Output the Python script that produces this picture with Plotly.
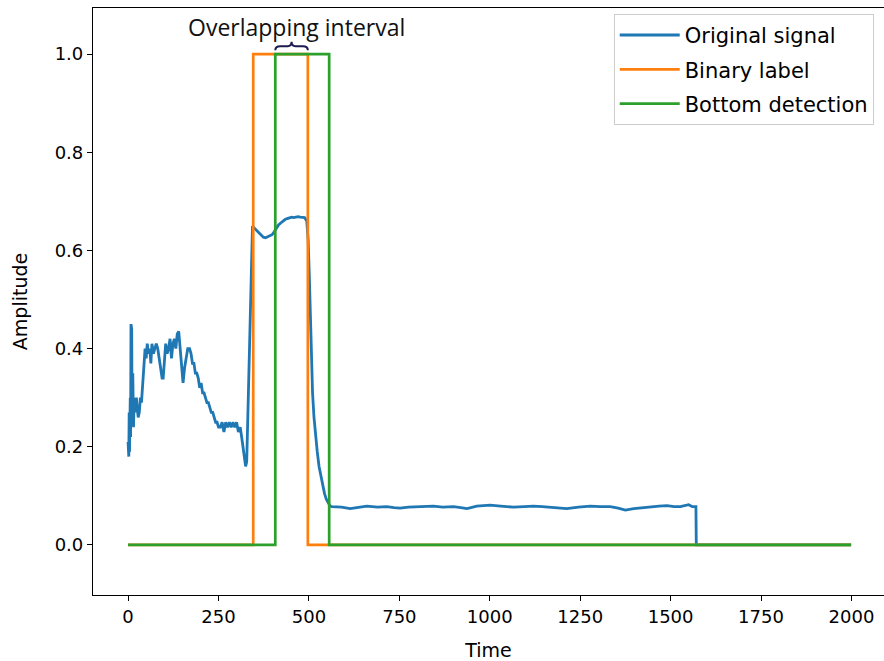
import plotly.graph_objects as go

# ---- data ----
signal_time = [0, 2, 3, 4, 6, 7, 8, 10, 11, 13, 15, 17, 19, 21, 23, 25, 28, 31, 34, 37,
               40, 44, 47, 50, 53, 56, 60, 63, 66, 70, 74, 78, 82, 86, 90, 94, 97, 100, 104, 108,
               112, 116, 120, 124, 128, 132, 136, 140, 144, 148, 152, 156, 160, 165, 170, 174, 178, 182, 186, 190,
               194, 198, 202, 206, 210, 214, 218, 222, 226, 230, 234, 238, 242, 246, 250, 255, 260, 265, 270, 275,
               280, 285, 290, 295, 300, 305, 310, 314, 318, 322, 325, 328, 332, 336, 340, 344, 350, 356, 362, 368,
               374, 380, 386, 392, 398, 404, 410, 416, 422, 428, 434, 440, 446, 452, 458, 464, 470, 476, 482, 488,
               494, 498, 501, 504, 507, 510, 514, 518, 523, 528, 533, 538, 543, 548, 553, 558, 563,
               568, 590, 614, 640, 660, 690, 715, 735, 752, 775, 799, 820, 844, 870, 900, 920, 937, 964, 1001,
               1030, 1066, 1095, 1121, 1145, 1167, 1190, 1213, 1245, 1278, 1305, 1333, 1355, 1375, 1398, 1420, 1444, 1468, 1490,
               1510, 1527, 1540, 1550, 1560, 1570, 1571, 1600, 1700, 1800, 1900, 1999]
signal_value = [0.21, 0.18, 0.27, 0.19, 0.30, 0.22, 0.45, 0.44, 0.25, 0.35, 0.24, 0.30, 0.27, 0.29, 0.30, 0.28, 0.26, 0.27, 0.30, 0.29,
                0.33, 0.37, 0.40, 0.38, 0.41, 0.39, 0.40, 0.37, 0.41, 0.39, 0.40, 0.41, 0.40, 0.38, 0.37, 0.34, 0.34, 0.38, 0.41, 0.39,
                0.40, 0.42, 0.38, 0.41, 0.42, 0.40, 0.43, 0.435, 0.40, 0.36, 0.33, 0.36, 0.38, 0.40, 0.40, 0.39, 0.37, 0.37, 0.35, 0.35,
                0.34, 0.32, 0.33, 0.31, 0.31, 0.30, 0.29, 0.29, 0.28, 0.27, 0.27, 0.26, 0.25, 0.25, 0.24, 0.24, 0.25, 0.23, 0.25, 0.24,
                0.25, 0.24, 0.25, 0.24, 0.25, 0.23, 0.24, 0.22, 0.20, 0.17, 0.16, 0.17, 0.30, 0.45, 0.58, 0.65, 0.645, 0.64, 0.635, 0.63,
                0.627, 0.626, 0.628, 0.63, 0.632, 0.638, 0.645, 0.652, 0.656, 0.66, 0.663, 0.665, 0.667, 0.668, 0.667, 0.668, 0.669, 0.668, 0.667, 0.667,
                0.66, 0.62, 0.55, 0.45, 0.36, 0.31, 0.26, 0.225, 0.19, 0.16, 0.14, 0.12, 0.105, 0.093, 0.085, 0.080, 0.078,
                0.078, 0.077, 0.074, 0.076, 0.079, 0.077, 0.078, 0.076, 0.075, 0.077, 0.078, 0.079, 0.079, 0.077, 0.078, 0.076, 0.074, 0.079, 0.081,
                0.079, 0.077, 0.078, 0.079, 0.078, 0.077, 0.076, 0.074, 0.077, 0.079, 0.078, 0.078, 0.075, 0.071, 0.074, 0.076, 0.077, 0.079, 0.080,
                0.078, 0.078, 0.080, 0.082, 0.078, 0.078, 0.0, 0.0, 0.0, 0.0, 0.0, 0.0]

label_time = [0, 346, 497, 1999]
label_value = [0, 1, 0, 0]

detect_time = [0, 407, 556, 1999]
detect_value = [0, 1, 0, 0]

y_ticks = [0.0, 0.2, 0.4, 0.6, 0.8, 1.0]
x_ticks = [0, 250, 500, 750, 1000, 1250, 1500, 1750, 2000]

FONT = "DejaVu Sans"

fig = go.Figure()
fig.add_trace(go.Scatter(x=signal_time, y=signal_value, mode="lines", name="Original signal",
                         line=dict(color="#1f77b4", width=2.8), legendgroup="a"))
fig.add_trace(go.Scatter(x=label_time, y=label_value, mode="lines", name="Binary label",
                         line=dict(color="#ff7f0e", width=2.7, shape="hv"), legendgroup="b"))
fig.add_trace(go.Scatter(x=detect_time, y=detect_value, mode="lines", name="Bottom detection",
                         line=dict(color="#2ca02c", width=2.7, shape="hv"), legendgroup="c"))

# overlapping interval brace derived from data
ov0 = max(label_time[1], detect_time[1])
ov1 = min(label_time[2], detect_time[2])
mid = (ov0 + ov1) / 2
w = ov1 - ov0
yb, yf, yt = 1.008, 1.016, 1.025
path = (f"M {ov0},{yb} Q {ov0},{yf} {ov0 + w*0.15},{yf} L {mid - w*0.12},{yf} "
        f"Q {mid},{yf} {mid},{yt} Q {mid},{yf} {mid + w*0.12},{yf} "
        f"L {ov1 - w*0.15},{yf} Q {ov1},{yf} {ov1},{yb}")
fig.add_shape(type="path", path=path, xref="x", yref="y",
              line=dict(color="#1c1c50", width=2))
fig.add_annotation(x=mid + 13, y=1.056, xref="x", yref="y", text="Overlapping interval",
                   showarrow=False, font=dict(family="Open Sans", size=23, color="#111111"))

axis_common = dict(showline=True, mirror=True, linecolor="black", linewidth=1.2,
                   ticks="outside", ticklen=5, tickwidth=1.2, tickcolor="black",
                   showgrid=False, zeroline=False,
                   tickfont=dict(family=FONT, size=18, color="black"))

fig.update_layout(
    width=884, height=661,
    margin=dict(l=93, r=0, t=8, b=66),
    plot_bgcolor="white", paper_bgcolor="white",
    xaxis=dict(range=[-97, 2090], tickvals=x_ticks, ticktext=[str(v) for v in x_ticks],
               title=dict(text="Time", font=dict(family=FONT, size=19, color="black"), standoff=18),
               **axis_common),
    yaxis=dict(range=[-0.102, 1.094], tickvals=y_ticks, ticktext=[f"{v:.1f}" for v in y_ticks],
               title=dict(text="Amplitude", font=dict(family=FONT, size=19, color="black"), standoff=22),
               **axis_common),
    legend=dict(x=0.987, y=0.99, xanchor="right", yanchor="top",
                bgcolor="white", bordercolor="#cccccc", borderwidth=1,
                font=dict(family=FONT, size=21, color="black"),
                itemwidth=60,
                tracegroupgap=4, traceorder="grouped"),
    showlegend=True,
)

fig.write_html("out.html")
